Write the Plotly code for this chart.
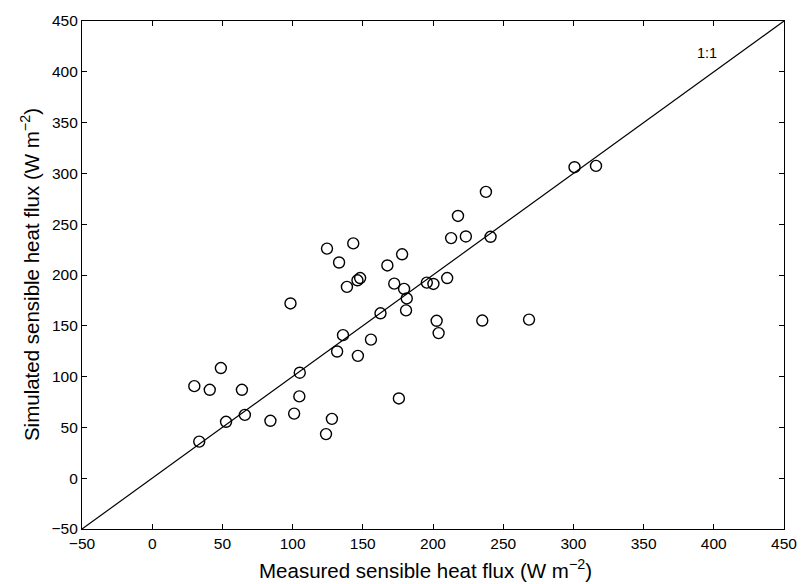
import plotly.graph_objects as go

measured = [30.0, 41.0, 48.9, 63.9, 33.5, 52.6, 66.0, 84.2, 101.1, 104.8, 105.1,
            124.5, 143.2, 133.1, 146.2, 148.1, 138.7, 98.5, 135.9, 131.7, 146.5,
            300.8, 316.1, 237.7, 217.8, 212.9, 223.4, 241.0, 178.0, 167.5, 172.4,
            179.4, 181.3, 180.8, 195.6, 200.3, 210.1, 162.6, 155.8, 202.6, 204.0,
            235.1, 268.4, 175.7, 128.0, 123.8]
simulated = [90.6, 87.0, 108.4, 87.0, 36.0, 55.5, 62.3, 56.5, 63.6, 80.5, 103.8,
             226.0, 231.1, 212.3, 194.8, 197.0, 188.3, 172.0, 140.8, 124.7, 120.4,
             306.1, 307.4, 281.8, 258.1, 236.3, 237.9, 237.6, 220.4, 209.4, 191.5,
             186.3, 176.9, 165.2, 192.5, 191.2, 197.0, 162.3, 136.4, 154.9, 142.8,
             155.2, 156.1, 78.5, 58.4, 43.4]
one_to_one = [-50, 450]
tick_vals = [-50, 0, 50, 100, 150, 200, 250, 300, 350, 400, 450]

FONT = "Liberation Sans, Arial, Helvetica, sans-serif"

fig = go.Figure()
fig.add_trace(go.Scatter(x=one_to_one, y=one_to_one, mode="lines",
                         line=dict(color="black", width=1.2), showlegend=False,
                         hoverinfo="skip"))
fig.add_trace(go.Scatter(x=measured, y=simulated, mode="markers",
                         marker=dict(symbol="circle-open", size=11, color="black",
                                     line=dict(color="black", width=1.4)),
                         showlegend=False))

axis_common = dict(
    range=[-50, 450], tickvals=tick_vals, ticks="inside", ticklen=5,
    tickcolor="black", tickwidth=1, showline=True, linecolor="black",
    linewidth=1.2, mirror="ticks", showgrid=False, zeroline=False,
    tickfont=dict(family=FONT, size=15.5, color="black"),
)
fig.update_xaxes(**axis_common)
fig.update_yaxes(**axis_common)

fig.add_annotation(x=395, y=419, xref="x", yref="y", text="1:1", showarrow=False,
                   font=dict(family=FONT, size=14.5, color="black"))
fig.add_annotation(x=0.489, y=-0.078, xref="paper", yref="paper",
                   text="Measured sensible heat flux (W m<sup>−2</sup>)",
                   showarrow=False, xanchor="center", yanchor="middle",
                   font=dict(family=FONT, size=20.5, color="black"))
fig.add_annotation(x=-0.074, y=0.5, xref="paper", yref="paper",
                   text="Simulated sensible heat flux (W m<sup>−2</sup>)",
                   showarrow=False, textangle=-90, xanchor="center", yanchor="middle",
                   font=dict(family=FONT, size=20.5, color="black"))

fig.update_layout(
    width=809, height=584,
    margin=dict(l=82, r=14, t=16, b=55),
    paper_bgcolor="white", plot_bgcolor="white",
)

fig.write_html("out.html", config={"responsive": False})
